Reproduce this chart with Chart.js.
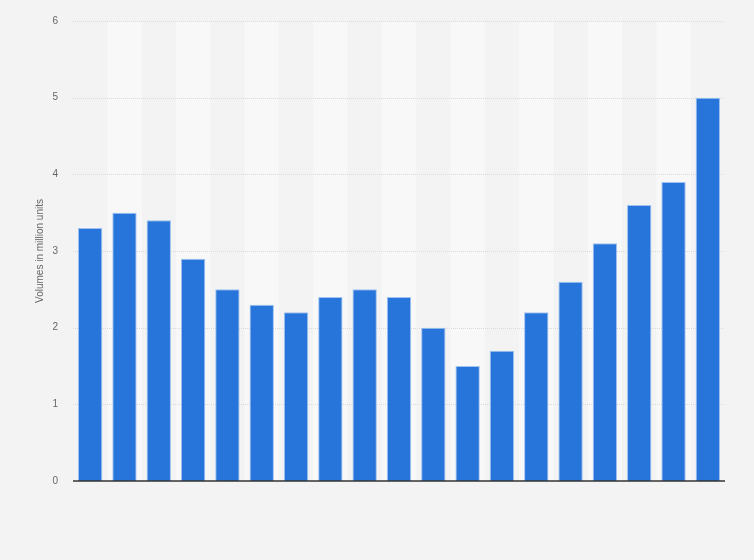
<!DOCTYPE html>
<html>
<head>
<meta charset="utf-8">
<script src="https://cdn.jsdelivr.net/npm/chart.js@4/dist/chart.umd.min.js"></script>
<style>
  html, body { margin: 0; padding: 0; background: #f3f3f3; }
  #wrap { width: 754px; height: 560px; position: relative; }
</style>
</head>
<body>
<div id="wrap"><canvas id="c" width="754" height="560"></canvas></div>
<script>
const categories = ["1","2","3","4","5","6","7","8","9","10","11","12","13","14","15","16","17","18","19"];
const volumes = [3.3, 3.5, 3.4, 2.9, 2.5, 2.3, 2.2, 2.4, 2.5, 2.4, 2.0, 1.5, 1.7, 2.2, 2.6, 3.1, 3.6, 3.9, 5.0];
const yTicks = [0, 1, 2, 3, 4, 5, 6];
const yTitle = "Volumes in million units";

const stripes = {
  id: 'stripes',
  beforeDatasetsDraw(chart) {
    const {ctx, chartArea, scales: {x}} = chart;
    const w = (chartArea.right - chartArea.left) / categories.length;
    ctx.save();
    ctx.fillStyle = '#f8f8f8';
    categories.forEach((c, i) => {
      if (i % 2 === 1) {
        const cx = x.getPixelForValue(i);
        ctx.fillRect(cx - w / 2, chartArea.top, w, chartArea.bottom - chartArea.top);
      }
    });
    ctx.restore();
  }
};

const grid = {
  id: 'gridOver',
  beforeDatasetsDraw(chart) {
    const {ctx, chartArea, scales: {y}} = chart;
    ctx.save();
    ctx.strokeStyle = '#dadada';
    ctx.lineWidth = 1;
    ctx.setLineDash([1, 1]);
    yTicks.forEach(v => {
      if (v === 0) return;
      const py = Math.round(y.getPixelForValue(v)) + 0.5;
      ctx.beginPath();
      ctx.moveTo(chartArea.left, py);
      ctx.lineTo(chartArea.right, py);
      ctx.stroke();
    });
    ctx.restore();
  },
  afterDatasetsDraw(chart) {
    const {ctx, chartArea, scales: {y}} = chart;
    ctx.save();
    ctx.strokeStyle = '#333333';
    ctx.lineWidth = 1.5;
    const py = y.getPixelForValue(0);
    ctx.beginPath();
    ctx.moveTo(chartArea.left, py);
    ctx.lineTo(chartArea.right, py);
    ctx.stroke();
    ctx.restore();
  }
};

new Chart(document.getElementById('c'), {
  type: 'bar',
  data: {
    labels: categories,
    datasets: [{
      data: volumes,
      backgroundColor: '#2775db',
      borderColor: 'rgba(150,188,240,0.9)',
      borderWidth: 1,
      categoryPercentage: 0.71,
      barPercentage: 1.0
    }]
  },
  options: {
    responsive: false,
    animation: false,
    layout: { padding: { top: 20, right: 29, bottom: 79, left: 0 } },
    plugins: { legend: { display: false }, tooltip: { enabled: false } },
    scales: {
      x: {
        display: false,
        grid: { display: false }
      },
      y: {
        min: 0,
        max: 6,
        afterBuildTicks(scale) { scale.ticks = yTicks.map(v => ({ value: v })); },
        afterFit(scale) { scale.width = 73; },
        grid: { display: false, drawTicks: false },
        border: { display: false },
        ticks: {
          color: '#666666',
          padding: 15,
          font: { family: 'Liberation Sans, Arial, sans-serif', size: 10 }
        },
        title: {
          display: true,
          text: yTitle,
          color: '#666666',
          padding: { top: 34, bottom: 0 },
          font: { family: 'Liberation Sans, Arial, sans-serif', size: 10 }
        }
      }
    }
  },
  plugins: [stripes, grid]
});
</script>
</body>
</html>
